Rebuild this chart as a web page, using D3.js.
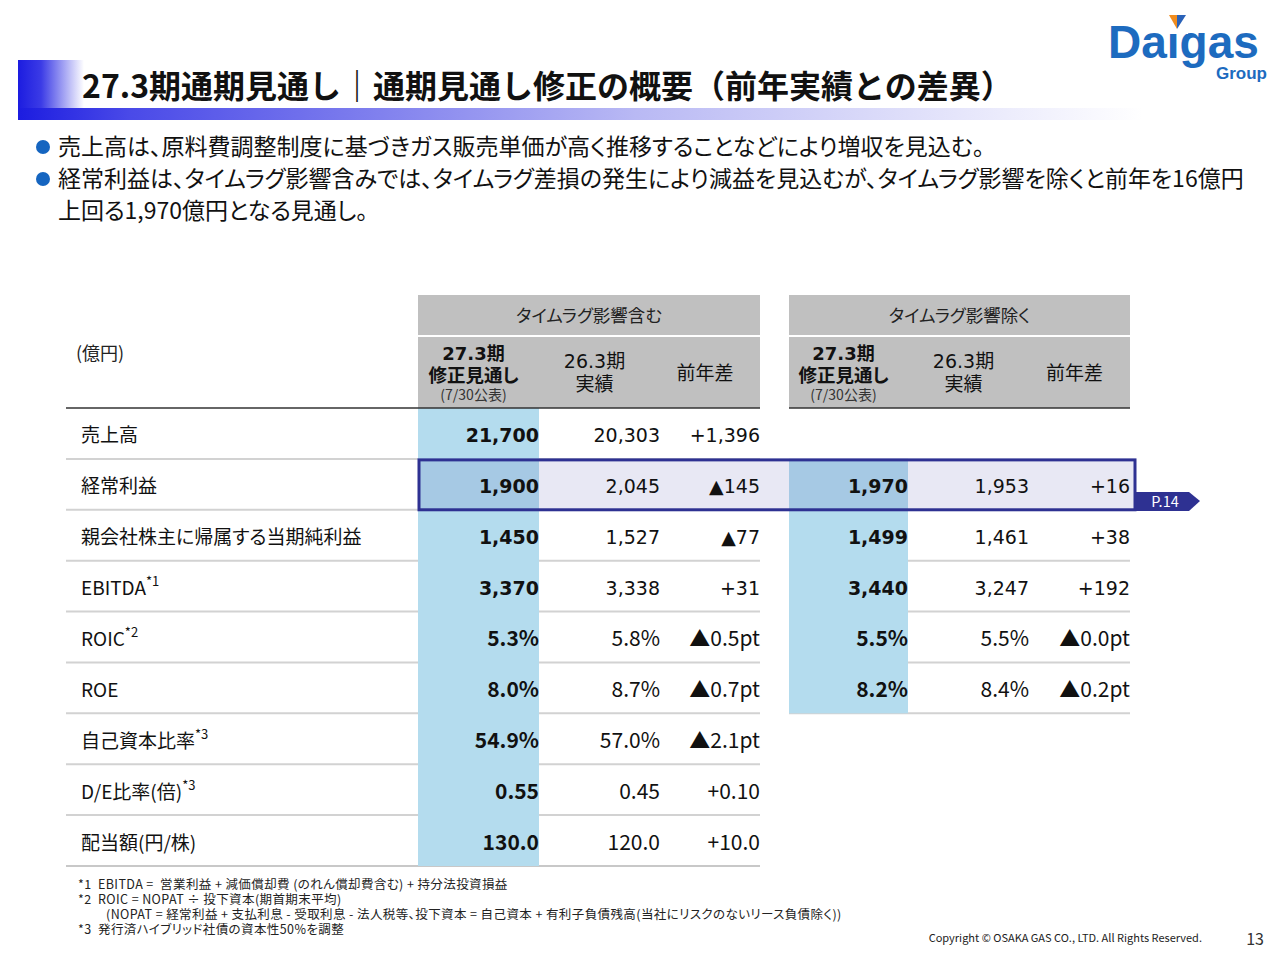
<!DOCTYPE html>
<html>
<head>
<meta charset="utf-8">
<script src="https://cdn.jsdelivr.net/npm/d3@7"></script>
<style>
  html, body { margin: 0; padding: 0; background: #ffffff; }
  svg text { font-family: "Noto Sans CJK JP", sans-serif; }
  .palt { font-feature-settings: "palt"; }
</style>
</head>
<body>
<svg id="slide"></svg>
<script>
// Row labels and footnote marks
const rowLabels = ["売上高", "経常利益", "親会社株主に帰属する当期純利益", "EBITDA", "ROIC", "ROE", "自己資本比率", "D/E比率(倍)", "配当額(円/株)"];
const rowNotes = ["", "", "", "*1", "*2", "", "*3", "*3", ""];

// タイムラグ影響含む
const incForecast = ["21,700", "1,900", "1,450", "3,370", "5.3%", "8.0%", "54.9%", "0.55", "130.0"];
const incActual = ["20,303", "2,045", "1,527", "3,338", "5.8%", "8.7%", "57.0%", "0.45", "120.0"];
const incDiff = ["+1,396", "▲145", "▲77", "+31", "▲0.5pt", "▲0.7pt", "▲2.1pt", "+0.10", "+10.0"];

// タイムラグ影響除く (売上高 row is empty)
const excForecast = [null, "1,970", "1,499", "3,440", "5.5%", "8.2%"];
const excActual = [null, "1,953", "1,461", "3,247", "5.5%", "8.4%"];
const excDiff = [null, "+16", "+38", "+192", "▲0.0pt", "▲0.2pt"];

const groupTitles = ["タイムラグ影響含む", "タイムラグ影響除く"];

const bullets = [
  ["売上高は、原料費調整制度に基づきガス販売単価が高く推移することなどにより増収を見込む。"],
  ["経常利益は、タイムラグ影響含みでは、タイムラグ差損の発生により減益を見込むが、タイムラグ影響を除くと前年を16億円",
   "上回る1,970億円となる見通し。"]
];

const footnotes = [
  {indent: 0, text: "*1  EBITDA =  営業利益 + 減価償却費 (のれん償却費含む) + 持分法投資損益"},
  {indent: 0, text: "*2  ROIC = NOPAT ÷ 投下資本(期首期末平均)"},
  {indent: 28, text: "(NOPAT = 経常利益 + 支払利息 - 受取利息 - 法人税等、投下資本 = 自己資本 + 有利子負債残高(当社にリスクのないリース負債除く))"},
  {indent: 0, text: "*3  発行済ハイブリッド社債の資本性50%を調整"}
];

const highlightRow = 1;

// Dimensions
const width = 1280;
const height = 960;

const svg = d3.select("#slide")
  .attr("width", width)
  .attr("height", height)
  .attr("viewBox", [0, 0, width, height]);

const defs = svg.append("defs");

// Title gradients
const gBar = defs.append("linearGradient").attr("id", "bar-grad");
gBar.append("stop").attr("offset", "0%").attr("stop-color", "#1c1ce0");
gBar.append("stop").attr("offset", "10%").attr("stop-color", "#4a4ae8");
gBar.append("stop").attr("offset", "55%").attr("stop-color", "#b9b9f4");
gBar.append("stop").attr("offset", "100%").attr("stop-color", "#ffffff");

const gBlock = defs.append("linearGradient").attr("id", "block-grad");
gBlock.append("stop").attr("offset", "0%").attr("stop-color", "#1c1ce0");
gBlock.append("stop").attr("offset", "35%").attr("stop-color", "#3b3be6");
gBlock.append("stop").attr("offset", "100%").attr("stop-color", "#ffffff");

svg.append("rect").attr("x", 18).attr("y", 60).attr("width", 66).attr("height", 60).attr("fill", "url(#block-grad)");
svg.append("rect").attr("x", 18).attr("y", 108).attr("width", 1125).attr("height", 12).attr("fill", "url(#bar-grad)");

svg.append("text")
  .attr("x", 82)
  .attr("y", 98)
  .style("font-size", "32px")
  .style("font-weight", "bold")
  .attr("fill", "#111")
  .text("27.3期通期見通し｜通期見通し修正の概要（前年実績との差異）");

// Logo
const logo = svg.append("g");
logo.append("text")
  .attr("x", 1108).attr("y", 58)
  .style("font-family", "'Liberation Sans', Arial, sans-serif")
  .style("font-size", "46px").style("font-weight", "bold")
  .attr("fill", "#1d6bbf")
  .text("Daigas");
logo.append("text")
  .attr("x", 1267).attr("y", 79)
  .attr("text-anchor", "end")
  .style("font-family", "'Liberation Sans', Arial, sans-serif")
  .style("font-size", "17px").style("font-weight", "bold")
  .attr("fill", "#1d6bbf")
  .text("Group");
logo.append("rect").attr("x", 1166).attr("y", 22).attr("width", 22).attr("height", 12).attr("fill", "#ffffff");
logo.append("polygon").attr("points", "1169,15 1177,15 1177,29").attr("fill", "#f08c1e");
logo.append("polygon").attr("points", "1177,15 1186,15 1177,29").attr("fill", "#2a62b8");

// Bullets
let lineY = 155;
bullets.forEach(lines => {
  svg.append("circle").attr("cx", 43).attr("cy", lineY - 8).attr("r", 7).attr("fill", "#1565c0");
  lines.forEach(l => {
    svg.append("text")
      .attr("class", "palt")
      .attr("x", 58).attr("y", lineY)
      .style("font-size", "23px")
      .attr("fill", "#111")
      .text(l);
    lineY += 32;
  });
});

// Table scales
const tableTop = 408;
const tableBottom = 866;
const y = d3.scaleBand().domain(d3.range(rowLabels.length)).range([tableTop, tableBottom]);

const leftX = 66;
const groups = [
  {x0: 418, x1: 760, cols: [418, 539, 660, 760], data: [incForecast, incActual, incDiff], rows: rowLabels.length},
  {x0: 789, x1: 1130, cols: [789, 908, 1029, 1130], data: [excForecast, excActual, excDiff], rows: excForecast.length}
];

const headGrey = "#c0c0c0";
const lightBlue = "#b4dcee";
const hiBlue = "#a6c9e4";
const lavender = "#e8e8f4";
const navy = "#2e3192";
const numFont = "'DejaVu Sans', Verdana, sans-serif";

// Header backgrounds and texts
groups.forEach((g, gi) => {
  svg.append("rect").attr("x", g.x0).attr("y", 295).attr("width", g.x1 - g.x0).attr("height", 40).attr("fill", headGrey);
  svg.append("rect").attr("x", g.x0).attr("y", 337).attr("width", g.x1 - g.x0).attr("height", 71).attr("fill", headGrey);
  svg.append("text").attr("class", "palt")
    .attr("x", (g.x0 + g.x1) / 2).attr("y", 322)
    .attr("text-anchor", "middle")
    .style("font-size", "17.5px").attr("fill", "#222")
    .text(groupTitles[gi]);

  const c = g.cols;
  const m1 = (c[0] + c[1]) / 2 - 5;
  const m2 = (c[1] + c[2]) / 2 - 5;
  const m3 = (c[2] + c[3]) / 2 - 5;
  const h = svg.append("g").attr("fill", "#111");
  const t1 = h.append("text").attr("x", m1).attr("y", 360).attr("text-anchor", "middle")
    .style("font-size", "18px").style("font-weight", "bold");
  t1.append("tspan").style("font-family", numFont).text("27.3");
  t1.append("tspan").text("期");
  h.append("text").attr("x", m1).attr("y", 382).attr("text-anchor", "middle").attr("class", "palt")
    .style("font-size", "18.5px").style("font-weight", "bold").text("修正見通し");
  h.append("text").attr("x", m1).attr("y", 400).attr("text-anchor", "middle")
    .style("font-size", "14px").attr("fill", "#333").text("(7/30公表)");
  const t2 = h.append("text").attr("x", m2).attr("y", 368).attr("text-anchor", "middle")
    .style("font-size", "19px");
  t2.append("tspan").style("font-family", numFont).text("26.3");
  t2.append("tspan").text("期");
  h.append("text").attr("x", m2).attr("y", 391).attr("text-anchor", "middle")
    .style("font-size", "19px").text("実績");
  h.append("text").attr("x", m3).attr("y", 380).attr("text-anchor", "middle")
    .style("font-size", "19px").text("前年差");
});

svg.append("text").attr("x", 76).attr("y", 360)
  .style("font-size", "18px").attr("fill", "#222").text("(億円)");

// Row separators (drawn under the blue column)
const sepColor = "#d2d2d2";
d3.range(rowLabels.length).forEach(i => {
  svg.append("line")
    .attr("x1", leftX).attr("x2", groups[0].x1)
    .attr("y1", y(i) + y.bandwidth()).attr("y2", y(i) + y.bandwidth())
    .attr("stroke", i === rowLabels.length - 1 ? "#c8c8c8" : sepColor).attr("stroke-width", 2);
});
d3.range(excForecast.length).filter(i => i >= 2).forEach(i => {
  svg.append("line")
    .attr("x1", groups[1].x0).attr("x2", groups[1].x1)
    .attr("y1", y(i) + y.bandwidth()).attr("y2", y(i) + y.bandwidth())
    .attr("stroke", sepColor).attr("stroke-width", 2);
});

// Highlight row background
const hy = y(highlightRow);
svg.append("rect").attr("x", 418).attr("y", hy).attr("width", 1135 - 418).attr("height", y.bandwidth()).attr("fill", lavender);

// Blue forecast columns
groups.forEach((g, gi) => {
  const top = gi === 0 ? tableTop : y(1);
  const bottom = y(g.rows - 1) + y.bandwidth();
  svg.append("rect").attr("x", g.cols[0]).attr("y", top).attr("width", g.cols[1] - g.cols[0]).attr("height", bottom - top).attr("fill", lightBlue);
  svg.append("rect").attr("x", g.cols[0]).attr("y", hy).attr("width", g.cols[1] - g.cols[0]).attr("height", y.bandwidth()).attr("fill", hiBlue);
});

// Header bottom lines
svg.append("line").attr("x1", leftX).attr("x2", groups[0].x1).attr("y1", tableTop).attr("y2", tableTop).attr("stroke", "#333").attr("stroke-width", 1.5);
svg.append("line").attr("x1", groups[1].x0).attr("x2", groups[1].x1).attr("y1", tableTop).attr("y2", tableTop).attr("stroke", "#333").attr("stroke-width", 1.5);

// Row labels
const baseOff = y.bandwidth() / 2 + 9;
rowLabels.forEach((lab, i) => {
  const t = svg.append("text").attr("class", "palt")
    .attr("x", 81).attr("y", y(i) + baseOff)
    .style("font-size", "19px").attr("fill", "#111");
  t.append("tspan").text(lab);
  if (rowNotes[i]) {
    t.append("tspan").attr("dy", -9).style("font-size", "13px").text(rowNotes[i]);
  }
});

// Values
groups.forEach(g => {
  g.data.forEach((series, ci) => {
    svg.selectAll(null)
      .data(series.map((v, i) => ({v, i})).filter(d => d.v !== null))
      .join("text")
      .attr("x", g.cols[ci + 1])
      .attr("y", d => y(d.i) + baseOff)
      .attr("text-anchor", "end")
      .style("font-family", d => d.i < 4 ? numFont : "'Noto Sans CJK JP', sans-serif")
      .style("font-size", d => d.i < 4 ? "19px" : "21px")
      .style("font-weight", ci === 0 ? "bold" : "normal")
      .attr("fill", "#111")
      .text(d => d.v);
  });
});

// Highlight box and page tag
svg.append("rect").attr("x", 419).attr("y", hy + 1).attr("width", 1135 - 419).attr("height", y.bandwidth() - 1)
  .attr("fill", "none").attr("stroke", navy).attr("stroke-width", 3);
svg.append("polygon")
  .attr("points", [[1135, 492], [1189, 492], [1200, 501], [1189, 511], [1135, 511]].map(p => p.join(",")).join(" "))
  .attr("fill", navy);
svg.append("text").attr("x", 1165).attr("y", 507).attr("text-anchor", "middle")
  .style("font-size", "14.5px")
  .attr("fill", "#ffffff").text("P.14");

// Footnotes
footnotes.forEach((f, i) => {
  svg.append("text").attr("class", "palt")
    .attr("x", 78 + f.indent).attr("y", 889 + i * 15)
    .style("font-size", "12.5px").style("letter-spacing", "0.4px").attr("fill", "#222")
    .style("white-space", "pre")
    .text(f.text);
});

svg.append("text").attr("x", 1202).attr("y", 942).attr("text-anchor", "end")
  .style("font-size", "11px").attr("fill", "#222")
  .text("Copyright © OSAKA GAS CO., LTD. All Rights Reserved.");
svg.append("text").attr("x", 1264).attr("y", 945).attr("text-anchor", "end")
  .style("font-size", "16px").attr("fill", "#333").text("13");
</script>
</body>
</html>
